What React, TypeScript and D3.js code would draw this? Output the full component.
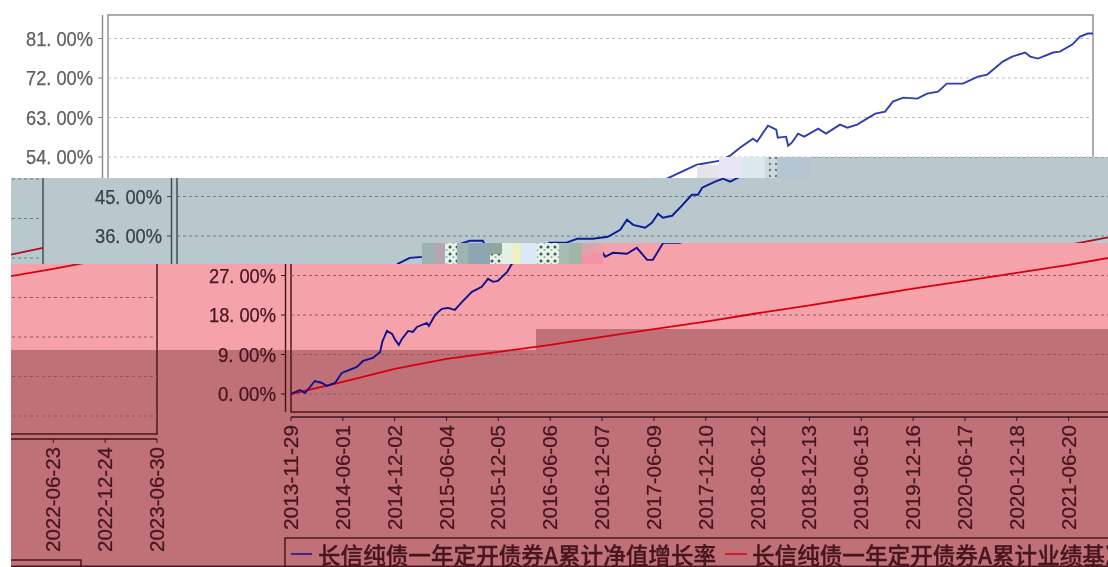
import * as d3 from "d3";

const tickDates = [
  "2013-11-29", "2014-06-01", "2014-12-02", "2015-06-04", "2015-12-05",
  "2016-06-06", "2016-12-07", "2017-06-09", "2017-12-10", "2018-06-12",
  "2018-12-13", "2019-06-15", "2019-12-16", "2020-06-17", "2020-12-18",
  "2021-06-20", "2021-12-21", "2022-06-23", "2022-12-24", "2023-06-30",
];
const yTicks = [0, 9, 18, 27, 36, 45, 54, 63, 72, 81];

// position of each reading, counted in tick intervals from the first date
const fundPos = [
  0, 0.04, 0.17, 0.27, 0.46, 0.6, 0.69, 0.85, 0.98, 1.27, 1.39, 1.58, 1.72, 1.76, 1.85, 1.95,
  2.01, 2.08, 2.14, 2.26, 2.35, 2.43, 2.62, 2.66, 2.78, 2.91, 3.03, 3.16, 3.3, 3.49, 3.68, 3.8,
  3.9, 3.99, 4.17, 4.26, 4.49, 4.73, 5.05, 5.34, 5.65, 5.9, 5.98, 6.06, 6.21, 6.48, 6.67, 6.87,
  6.98, 7.18, 7.5, 7.72, 8.02, 8.31, 8.55, 8.68, 8.8, 9.03, 9.16, 9.28, 9.37, 9.55, 9.7, 9.93,
  10.05, 10.13, 10.38, 10.53, 10.67, 10.82, 11.36, 11.81, 12, 12.19, 12.44, 12.52, 12.73, 12.89,
  12.92, 13.08, 13.12, 13.19, 13.31, 13.43, 13.7, 13.85, 14.12, 14.26, 14.45, 14.8, 14.99, 15.14,
  15.34, 15.61, 15.8, 16.01, 16.18, 16.49, 16.78, 16.96, 17.26, 17.44, 17.69, 17.79, 17.94, 18.23,
  18.36, 18.6, 18.75, 18.9, 19,
];
const fundPct = [
  0, 0.23, 0.91, 0.23, 2.97, 2.51, 1.83, 2.51, 4.79, 6.16, 7.53, 8.21, 9.58, 11.86, 14.37, 13.69,
  12.32, 11.18, 12.55, 14.37, 14.14, 15.28, 16.2, 15.51, 18.02, 19.39, 19.62, 19.16, 20.99, 23.27, 24.41, 26.24,
  25.55, 25.78, 27.83, 29.66, 31.03, 31.25, 32.4, 33.76, 34.91, 34.91, 32.85, 31.25, 32.17, 31.94, 33.31, 30.57,
  30.57, 34.45, 34.45, 35.36, 35.36, 35.82, 37.41, 39.7, 38.55, 37.87, 39.01, 41.07, 40.15, 40.61, 42.43, 45.4,
  45.4, 47, 48.37, 49.05, 48.37, 49.28, 52.24, 53.16, 54.3, 56.12, 58.18, 57.49, 61.14, 60.23,
  58.4, 58.63, 56.58, 57.26, 59.32, 58.63, 60.46, 59.32, 61.37, 60.69, 61.37, 63.88, 64.34, 66.62,
  67.53, 67.3, 68.44, 68.9, 70.72, 70.72, 72.32, 72.78, 75.74, 76.88, 77.8, 76.88, 76.43, 77.8,
  78.02, 79.62, 81.45, 82.13, 82.13,
];
// benchmark, read at each tick date
const benchPct = [
  0, 2.74, 5.7, 8, 9.6, 11.2, 13, 14.8, 16.5, 18.4,
  20.2, 22.1, 24, 25.8, 27.6, 29.4, 31.5, 33.5, 35.8, 38.3,
];

const legendNames = ["长信纯债一年定开债券A累计净值增长率", "长信纯债一年定开债券A累计业绩基准收益率"];

const x = d3.scaleLinear().domain([0, 19]).range([108, 1093]);
const y = d3.scaleLinear().domain([0, 81]).range([394, 38.5]);

const fundLine = d3.line<number>().x((_, i) => x(fundPos[i])).y(d => y(d));
const benchLine = d3.line<number>().x((_, i) => x(i)).y(d => y(d));

type Ink = { frame: string; text: string; dash: string; fund: string; bench: string };

const plain: Ink = { frame: "#8a8a8a", text: "#5f5f5f", dash: "#bdbdbd", fund: "#2f3db0", bench: "#d01010" };
const gray: Ink = { frame: "#37484d", text: "#34444a", dash: "#6b7b80", fund: "#0a1a9a", bench: "#b00a20" };
const pink: Ink = { frame: "#3f1218", text: "#45141e", dash: "#8a5a62", fund: "#10108f", bench: "#d80010" };

function Chart({ ink }: { ink: Ink }) {
  return (
    <g>
      <rect x={108} y={15} width={985} height={397} fill="none" stroke={ink.frame} strokeWidth={1.4} />
      <line x1={102.5} x2={102.5} y1={15} y2={412} stroke={ink.frame} strokeWidth={1.4} />
      <line x1={108} x2={1093} y1={417} y2={417} stroke={ink.frame} strokeWidth={1.4} />
      {yTicks.map(t => (
        <g key={t}>
          <line x1={108} x2={1093} y1={y(t)} y2={y(t)} stroke={ink.dash} strokeDasharray="3 3" />
          <line x1={98} x2={102.5} y1={y(t)} y2={y(t)} stroke={ink.frame} />
          <text
            x={93}
            y={y(t) + 7}
            textAnchor="end"
            textLength={t === 0 || t === 9 ? 58 : 67}
            lengthAdjust="spacingAndGlyphs"
            fontFamily="Liberation Sans"
            fontSize={20}
            stroke={ink.text}
            strokeWidth={0.25}
            fill={ink.text}
          >
            {t}. 00%
          </text>
        </g>
      ))}
      {tickDates.map((d, i) => (
        <g key={d}>
          <line x1={x(i)} x2={x(i)} y1={417} y2={421} stroke={ink.frame} />
          <text
            transform={`translate(${x(i) + 7},425) rotate(-90)`}
            textAnchor="end"
            textLength={105}
            lengthAdjust="spacingAndGlyphs"
            fontFamily="Liberation Sans"
            fontSize={19.5}
            stroke={ink.text}
            strokeWidth={0.25}
            fill={ink.text}
          >
            {d}
          </text>
        </g>
      ))}
      <path d={benchLine(benchPct) ?? ""} fill="none" stroke={ink.bench} strokeWidth={1.8} />
      <path d={fundLine(fundPct) ?? ""} fill="none" stroke={ink.fund} strokeWidth={1.9} />
      <rect x={102} y={538} width={915} height={40} fill="none" stroke={ink.frame} strokeWidth={1.4} />
      <line x1={108} x2={129} y1={554} y2={554} stroke={ink.fund} strokeWidth={1.4} />
      <line x1={542} x2={564} y1={554} y2={554} stroke={ink.bench} strokeWidth={1.4} />
      <text x={135} y={564} fontFamily="Noto Sans CJK SC" fontWeight={500} fontSize={22.6} stroke={ink.text} strokeWidth={0.3} fill={ink.text}>
        {legendNames[0]}
      </text>
      <text x={569} y={564} fontFamily="Noto Sans CJK SC" fontWeight={500} fontSize={22.6} stroke={ink.text} strokeWidth={0.3} fill={ink.text}>
        {legendNames[1]}
      </text>
    </g>
  );
}

// corrupted macroblocks of the picture: x, y, w, h, fill
const blocks: [number, number, number, number, string][] = [
  [422, 243, 12, 21, "#9db3b1"], [434, 243, 11, 21, "#b3a6b0"], [445, 243, 12, 21, "url(#speck)"],
  [457, 243, 11, 21, "#9fb4b2"], [468, 243, 22, 21, "#8ea6b2"], [490, 243, 12, 11, "#8fa89e"],
  [490, 254, 12, 10, "url(#speck)"], [502, 243, 11, 21, "#e4f0e2"], [513, 243, 7, 21, "#eef2b8"],
  [520, 243, 17, 21, "#dbe8f6"], [537, 243, 22, 21, "url(#speck)"], [559, 243, 10, 21, "#a8bcb2"],
  [569, 243, 13, 21, "#a4b4a8"], [582, 243, 12, 10, "#d9a4ac"], [594, 243, 9, 10, "#e8a2ac"],
  [582, 253, 21, 11, "#f492a8"],
  [697, 165, 22, 13, "#e4e4ea"], [719, 157, 23, 21, "#e8e6f4"], [742, 157, 23, 21, "#dbe8ee"],
  [765, 157, 12, 21, "url(#speck2)"], [777, 157, 33, 21, "#b6c5d4"],
];

export default function App() {
  const w = 1108;
  const h = 567;
  return (
    <svg width={w} height={h} viewBox={`0 0 ${w} ${h}`} style={{ position: "fixed", left: 0, top: 0, background: "#fff" }}>
      <defs>
        <filter id="soft" x="0" y="0" width="100%" height="100%">
          <feGaussianBlur stdDeviation="0.5" />
        </filter>
        <pattern id="speck" width="7" height="7" patternUnits="userSpaceOnUse">
          <rect width="7" height="7" fill="#e6f2ea" />
          <circle cx="2" cy="2" r="1.5" fill="#3f5a50" />
          <circle cx="5.5" cy="5" r="1" fill="#8fa8a0" />
        </pattern>
        <pattern id="speck2" width="6" height="6" patternUnits="userSpaceOnUse">
          <rect width="6" height="6" fill="#cfdadc" />
          <circle cx="2" cy="2" r="1.2" fill="#6a7a7e" />
        </pattern>
        <clipPath id="c-white"><path d="M0 0H1108V157H808V178H0Z" /></clipPath>
        <clipPath id="c-gray"><path d="M60 178H808V157H1108V243H603V264H60Z" /></clipPath>
        <clipPath id="c-gray-wrap"><rect x={11} y={178} width={49} height={86} /></clipPath>
        <clipPath id="c-pink"><path d="M200 264H603V243H1108V567H200Z" /></clipPath>
        <clipPath id="c-pink-wrap"><rect x={11} y={264} width={189} height={303} /></clipPath>
      </defs>
      <g filter="url(#soft)">
        <rect width={w} height={h} fill="#fff" />
        <path d="M11 178H808V157H1108V243H603V264H11Z" fill="#b9c8cc" />
        <path d="M11 264H603V243H1108V329H536V350H11Z" fill="#f6a2aa" />
        <path d="M11 350H536V329H1108V567H11Z" fill="#c07077" />

        <g clipPath="url(#c-white)"><Chart ink={plain} /></g>
        <g clipPath="url(#c-gray)"><g transform="translate(69,0)"><Chart ink={gray} /></g></g>
        <g clipPath="url(#c-gray-wrap)"><g transform="translate(-1050,22)"><Chart ink={gray} /></g></g>
        <g clipPath="url(#c-pink)"><g transform="translate(183,0)"><Chart ink={pink} /></g></g>
        <g clipPath="url(#c-pink-wrap)"><g transform="translate(-936,22)"><Chart ink={pink} /></g></g>

        {blocks.map(([bx, by, bw, bh, fill]) => (
          <rect key={`${bx}-${by}`} x={bx} y={by} width={bw} height={bh} fill={fill} />
        ))}
        <rect x={11} y={565.5} width={1097} height={1.5} fill="#4a1820" />
      </g>
    </svg>
  );
}
